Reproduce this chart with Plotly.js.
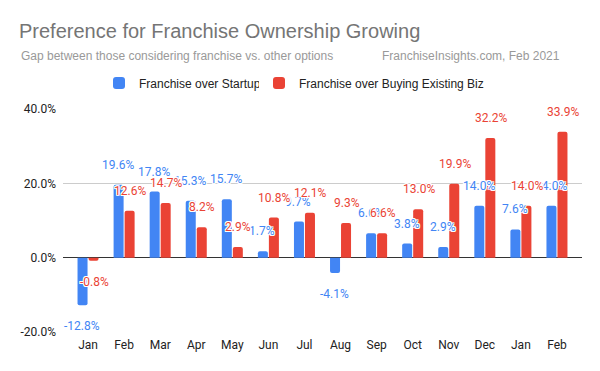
<!DOCTYPE html>
<html>
<head>
<meta charset="utf-8">
<script src="https://cdn.plot.ly/plotly-3.0.1.min.js"></script>
<style>html,body{margin:0;padding:0;background:#fff;}#chart{width:600px;height:371px;}</style>
</head>
<body>
<div id="chart"></div>
<script>
var months = ["Jan","Feb","Mar","Apr","May","Jun","Jul","Aug","Sep","Oct","Nov","Dec","Jan","Feb"];
var startup = [-12.8, 19.6, 17.8, 15.3, 15.7, 1.7, 9.7, -4.1, 6.6, 3.8, 2.9, 14.0, 7.6, 14.0];
var existing = [-0.8, 12.6, 14.7, 8.2, 2.9, 10.8, 12.1, 9.3, 6.6, 13.0, 19.9, 32.2, 14.0, 33.9];
var seriesNames = ["Franchise over Startup", "Franchise over Buying Existing Biz"];
var yTicks = [-20, 0, 20, 40];

var idx = months.map(function(m, i){ return i; });
var BLUE = "#4285F4", RED = "#EA4335";

var traces = [
  {type: "bar", name: seriesNames[0], x: idx, y: startup, marker: {color: BLUE}, hoverinfo: "none", legend: "legend"},
  {type: "bar", name: seriesNames[1], x: idx, y: existing, marker: {color: RED}, hoverinfo: "none", legend: "legend2"}
];

var halo = "1px 1px 0 #fff, -1px -1px 0 #fff, 1px -1px 0 #fff, -1px 1px 0 #fff, 0 1px 0 #fff, 0 -1px 0 #fff, 1px 0 0 #fff, -1px 0 0 #fff";
var annotations = [];
function addLabels(vals, color, dx) {
  vals.forEach(function(v, i){
    annotations.push({
      x: i, y: v, xref: "x", yref: "y", text: v.toFixed(1) + "%", showarrow: false,
      xshift: dx, yshift: v >= 0 ? 20 : -21, xanchor: "center", yanchor: "middle",
      font: {family: "Roboto, sans-serif", size: 12, color: color, shadow: halo}
    });
  });
}
addLabels(startup, BLUE, -6);
addLabels(existing, RED, 6);

annotations.push({
  xref: "paper", yref: "paper", x: -0.0848, y: (332 - 56) / 223, xanchor: "left", yanchor: "middle",
  text: "Gap between those considering franchise vs. other options", showarrow: false,
  font: {family: "Liberation Sans, Arial, sans-serif", size: 12, color: "#999999"}
});
annotations.push({
  xref: "paper", yref: "paper", x: (380 - 63) / 519, y: (332 - 56) / 223, xanchor: "left", yanchor: "middle",
  text: "FranchiseInsights.com, Feb 2021", showarrow: false,
  font: {family: "Liberation Sans, Arial, sans-serif", size: 12, color: "#999999"}
});

var legendFont = {family: "Liberation Sans, Arial, sans-serif", size: 12, color: "#222"};

var layout = {
  width: 600, height: 371,
  margin: {l: 63, r: 18, t: 109, b: 39, pad: 0},
  paper_bgcolor: "#fff", plot_bgcolor: "#fff",
  title: {
    text: "Preference for Franchise Ownership Growing",
    x: 19/600, xanchor: "left", xref: "container",
    y: 1 - 31/371, yanchor: "middle", yref: "container",
    font: {family: "Liberation Sans, Arial, sans-serif", size: 20, color: "#757575"}
  },
  barmode: "group", bargap: 0.39, bargroupgap: 0.09, barcornerradius: 2,
  showlegend: true,
  legend: {
    orientation: "h", x: (99 - 63) / 519, xanchor: "left", y: 1.117, yanchor: "middle",
    font: legendFont, itemwidth: 30
  },
  legend2: {
    orientation: "h", x: (259 - 63) / 519, xanchor: "left", y: 1.117, yanchor: "middle",
    font: legendFont, itemwidth: 30
  },
  xaxis: {
    range: [-0.694, 13.694], tickvals: idx, ticktext: months,
    showgrid: false, zeroline: false, showline: false, ticks: "",
    ticklabelstandoff: 4,
    tickfont: {family: "Roboto, sans-serif", size: 12, color: "#222"},
    fixedrange: true
  },
  yaxis: {
    range: [-20, 40], tickvals: yTicks, ticktext: yTicks.map(function(t){ return t.toFixed(1) + "%"; }),
    showgrid: true, gridcolor: "#cccccc", gridwidth: 1,
    zeroline: true, zerolinecolor: "#333333", zerolinewidth: 1.3,
    showline: false, ticks: "", ticklabelstandoff: 6,
    tickfont: {family: "Roboto, sans-serif", size: 12, color: "#222"},
    fixedrange: true
  },
  annotations: annotations
};

Plotly.newPlot("chart", traces, layout, {displayModeBar: false, staticPlot: true});
</script>
</body>
</html>
